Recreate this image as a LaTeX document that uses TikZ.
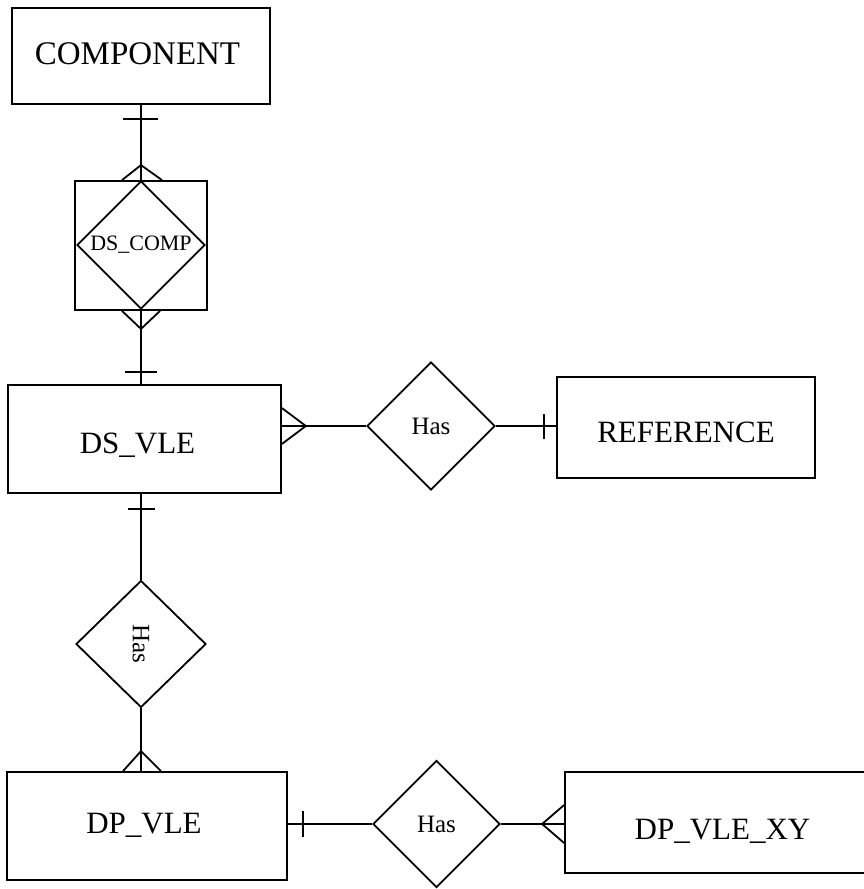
\documentclass[tikz,border=0pt]{standalone}
\usepackage{fontspec}
\usepackage{graphicx}
\setmainfont{Liberation Serif}
\usetikzlibrary{shapes.geometric,calc}
\begin{document}
\begin{tikzpicture}[x=1pt,y=-1pt,line width=1.8pt,
  entity/.style={draw, rectangle, inner sep=0pt, line width=1.8pt,
                 text depth=0pt, font=\fontsize{31}{31}\selectfont},
  rel/.style={draw, diamond, inner sep=0pt, line width=1.8pt,
              minimum width=128, minimum height=128,
              font=\fontsize{25}{25}\selectfont}]
\useasboundingbox (0,0) rectangle (863,889);

% entities (text height sets where the capitals sit in each box)
\node[entity, minimum width=258, minimum height=96, text height=16.6pt,
      font=\fontsize{33}{33}\selectfont]
  (component) at (141,56) {COMPONENT\kern7pt};
\node[entity, minimum width=273, minimum height=108, text height=28.3pt]
  (dsvle) at (144.5,439) {DS\_VLE\kern14pt};
\node[entity, minimum width=258, minimum height=101, text height=29.3pt]
  (reference) at (686,427.5) {REFERENCE};
\node[entity, minimum width=280, minimum height=108, text height=15.3pt]
  (dpvle) at (147,826) {DP\_VLE\kern6pt};
\node[entity, minimum width=315, minimum height=101, text height=33.3pt]
  (dpvlexy) at (722.5,822.5) {DP\_VLE\_XY};

% associative entity DS_COMP
\node[draw, rectangle, minimum width=132, minimum height=129] (dscompbox) at (141,245.5) {};
\node[rel, font=\fontsize{22}{22}\selectfont] (dscomp) at (141,245) {DS\_COMP};

% relationships
\node[rel] (has1) at (431,426) {Has};
\node[rel, minimum width=130, minimum height=127] (has2) at (141,644) {\rotatebox{-90}{Has}};
\node[rel, minimum width=127, minimum height=127] (has3) at (436.5,824) {Has};

% COMPONENT -- DS_COMP
\draw (component.south) -- (dscomp.north);
\draw ($(component.south)+(-18,14)$) -- ($(component.south)+(17,14)$);
\draw ($(dscompbox.north)+(-19,0)$) -- ($(dscompbox.north)+(0,-15)$) -- ($(dscompbox.north)+(21,0)$);

% DS_COMP -- DS_VLE
\draw (dscomp.south) -- (dscomp.south |- dsvle.north);
\draw ($(dscompbox.south)+(-19,0)$) -- ($(dscompbox.south)+(0,18)$) -- ($(dscompbox.south)+(19,0)$);
\coordinate (dstop) at (dscomp.south |- dsvle.north);
\draw ($(dstop)+(-16,-12)$) -- ($(dstop)+(16,-12)$);

% DS_VLE -- Has -- REFERENCE
\coordinate (dsright) at (has1.west -| dsvle.east);
\draw (dsright) -- (has1.west);
\draw ($(dsright)+(0,-18)$) -- ($(dsright)+(24,0)$) -- ($(dsright)+(0,18)$);
\coordinate (refleft) at (has1.east -| reference.west);
\draw (has1.east) -- (refleft);
\draw ($(refleft)+(-12,-12)$) -- ($(refleft)+(-12,13)$);

% DS_VLE -- Has -- DP_VLE
\coordinate (dsbottom) at (has2.north |- dsvle.south);
\draw (dsbottom) -- (has2.north);
\draw ($(dsbottom)+(-13,15)$) -- ($(dsbottom)+(14,15)$);
\coordinate (dptop) at (has2.south |- dpvle.north);
\draw (has2.south) -- (dptop);
\draw ($(dptop)+(-18,0)$) -- ($(dptop)+(0,-20)$) -- ($(dptop)+(20,0)$);

% DP_VLE -- Has -- DP_VLE_XY
\coordinate (dpright) at (has3.west -| dpvle.east);
\draw (dpright) -- (has3.west);
\draw ($(dpright)+(15,-13)$) -- ($(dpright)+(15,13)$);
\coordinate (xyleft) at (has3.east -| dpvlexy.west);
\draw (has3.east) -- (xyleft);
\draw ($(xyleft)+(0,-19)$) -- ($(xyleft)+(-22,0)$) -- ($(xyleft)+(0,19)$);
\end{tikzpicture}
\end{document}
